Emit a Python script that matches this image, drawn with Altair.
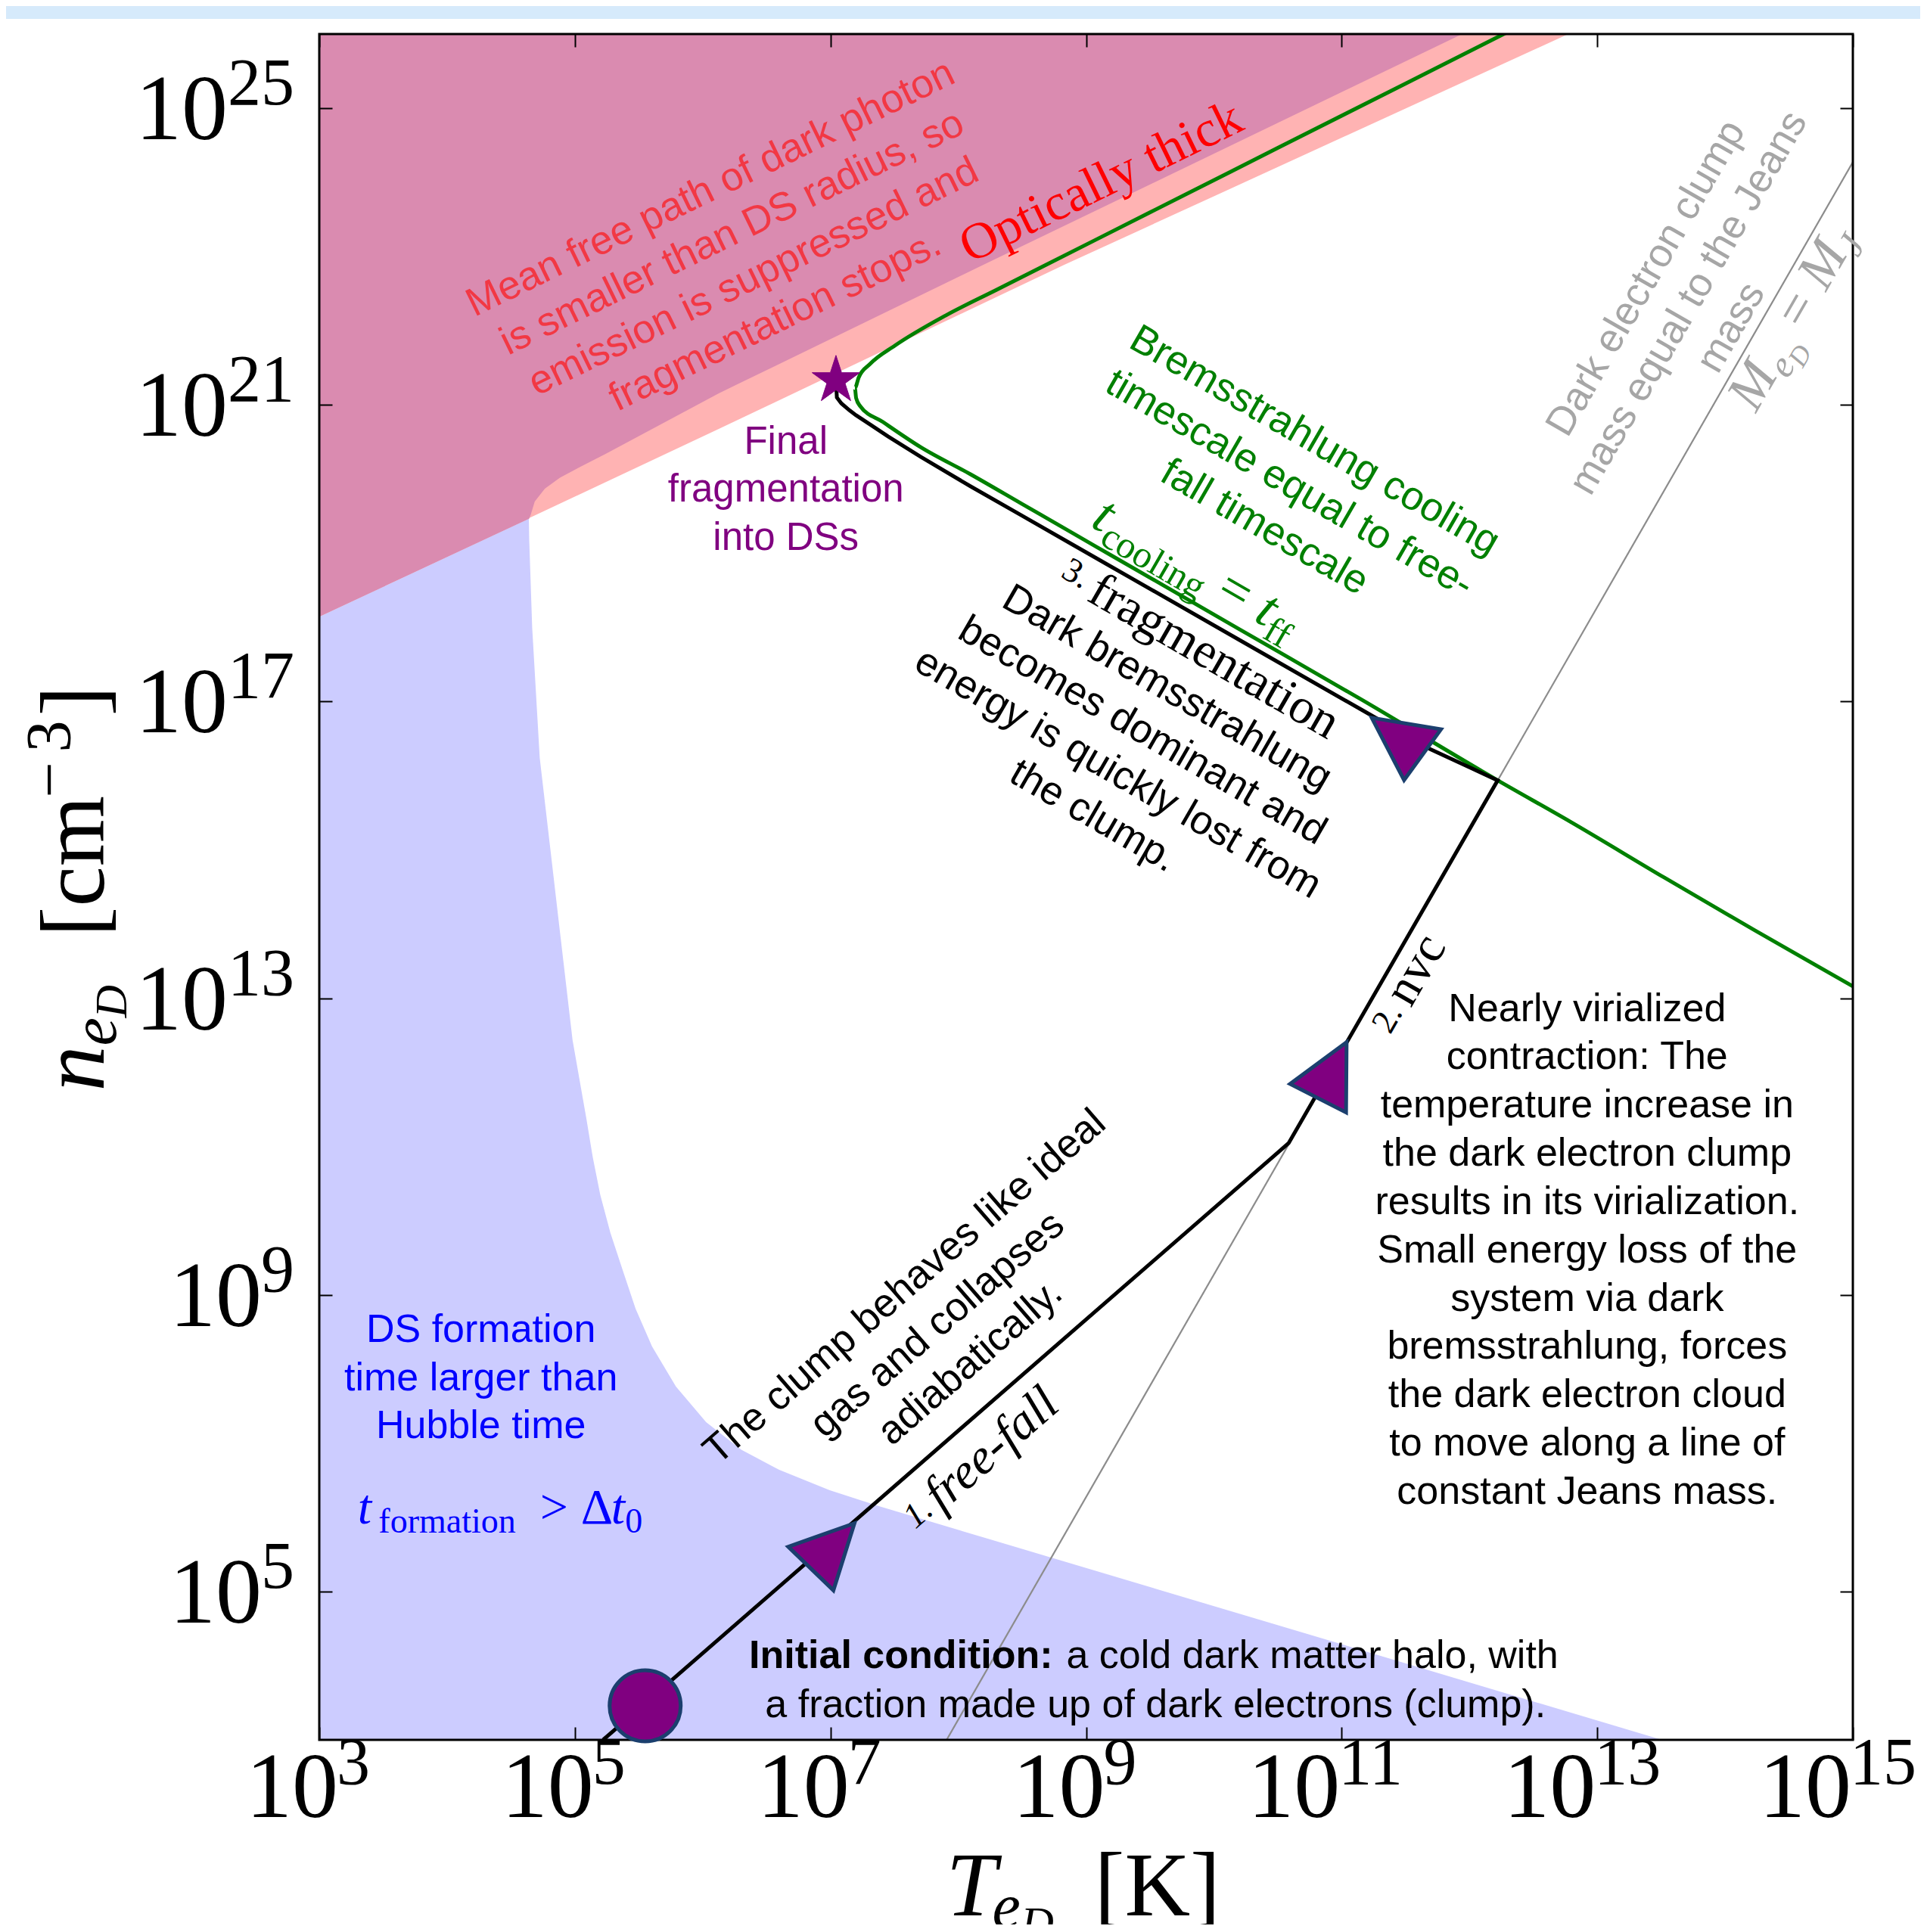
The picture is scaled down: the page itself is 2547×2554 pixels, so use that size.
import altair as alt
import pandas as pd

W, H = 2027, 2255
PAD = {"left": 414, "top": 37, "right": 89, "bottom": 244}
SANS = "Liberation Sans"
SERIF = "Liberation Serif"

# ---------------- data (log10 values) ----------------
XTICK_EXP = [3, 5, 7, 9, 11, 13, 15]
YTICK_EXP = [5, 9, 13, 17, 21, 25]

BLUE_LOGT = [3.0, 4.640, 4.643, 4.666, 4.725, 4.804, 4.883, 4.982, 5.091, 5.140, 5.199,
             5.278, 5.376, 5.475, 5.604, 5.791, 6.027, 6.303, 6.599, 6.994, 7.388, 13.507]
BLUE_LOGN = [18.144, 19.465, 19.168, 17.997, 16.241, 15.07, 13.899, 12.435, 11.365, 10.855, 10.345,
             9.835, 9.325, 8.815, 8.305, 7.762, 7.285, 6.911, 6.640, 6.367, 6.146, 3.0]

SALMON_LOGT = [3.0, 6.126, 8.83, 12.9]
SALMON_LOGN = [18.144, 20.676, 22.889, 26.1]

MAUVE_LOGT = [3.0, 4.642, 4.655, 4.686, 4.765, 4.883, 5.041, 5.238, 6.126, 8.197, 11.943, 12.1]
MAUVE_LOGN = [18.144, 19.465, 19.52, 19.696, 19.87, 20.017, 20.164, 20.337, 21.156, 22.889, 26.0, 26.13]

JEANS_LOGT = [7.909, 15.0]
JEANS_LOGN = [3.0, 24.274]

GREEN_LOGT = [12.40, 11.5, 10.5, 9.5, 8.688, 8.298, 7.901, 7.505, 7.309, 7.221, 7.191, 7.201, 7.233,
              7.410, 7.706, 8.096, 8.493, 8.889, 9.203, 10.2, 11.156, 12.221, 12.793, 13.523, 14.233, 15.0]
GREEN_LOGN = [26.115, 25.333, 24.464, 23.595, 22.889, 22.550, 22.205, 21.80, 21.55, 21.37, 21.227, 21.09, 20.982,
              20.770, 20.430, 20.064, 19.670, 19.277, 18.965, 17.975, 17.025, 15.937, 15.376, 14.628, 13.914, 13.16]

PATH_LOGT = [5.221, 10.585, 12.221, 11.689, 11.156, 10.2, 9.203, 8.890, 8.493, 8.097, 7.706, 7.45, 7.310,
             7.20, 7.150, 7.085, 7.050, 7.043]
PATH_LOGN = [3.0, 11.045, 15.937, 16.362, 16.889, 17.83, 18.812, 19.12, 19.511, 19.901, 20.300, 20.575, 20.735,
             20.86, 20.925, 21.02, 21.10, 21.33]

CIRCLE_LOGT, CIRCLE_LOGN = [5.55], [3.46]
TRI_LOGT = [7.017, 10.927, 11.434]
TRI_LOGN = [5.615, 12.029, 16.532]
TRI_ANGLE = [44, 27, 306]
STAR_LOGT, STAR_LOGN = [7.043], [21.33]

MEAN_FREE = ["Mean free path of dark photon", "is smaller than DS radius, so",
             "emission is suppressed and", "fragmentation stops."]
FINAL = ["Final", "fragmentation", "into DSs"]
BREMS = ["Bremsstrahlung cooling", "timescale equal to free-", "fall timescale"]
DARKB = ["Dark bremsstrahlung", "becomes dominant and", "energy is  quickly lost from", "the clump."]
JEANS_TXT = ["Dark electron clump", "mass equal to the Jeans", "mass"]
NVC_TXT = ["Nearly virialized", "contraction: The", "temperature increase in",
           "the dark electron clump", "results in its virialization.", "Small energy loss of the",
           "system via dark", "bremsstrahlung, forces", "the dark electron cloud",
           "to move along a line of", "constant Jeans mass."]
CLUMP = ["The clump behaves like ideal", "gas and collapses", "adiabatically."]
DSFORM = ["DS formation", "time larger than", "Hubble time"]
INIT_BOLD = "Initial condition:"
INIT_1 = "a cold dark matter halo, with"
INIT_2 = "a fraction made up of dark electrons (clump)."

# ---------------- helpers ----------------
XS = alt.Scale(type="log", domain=[1e3, 1e15], nice=False)
YS = alt.Scale(type="log", domain=[1e3, 1e26], nice=False)


def X(f="T"):
    return alt.X(f"{f}:Q", scale=XS, axis=None)


def Y(f="n"):
    return alt.Y(f"{f}:Q", scale=YS, axis=None)


def frame(lt, ln):
    return pd.DataFrame({"T": [10.0 ** v for v in lt], "n": [10.0 ** v for v in ln]})


def tick_axis(orient, exps):
    return alt.Axis(orient=orient, values=[10.0 ** e for e in exps], labels=False, title=None,
                    grid=False, domain=False, ticks=True, tickSize=17, offset=-17,
                    tickColor="black", tickWidth=2, zindex=1)


def text_block(lines, lt, ln, size, lh, color, angle=0, font=SANS, align="center",
               weight="normal", style="normal"):
    n = len(lines)
    dy = -(n - 1) / 2 * lh + 0.3 * size
    mk = dict(text=lines if n > 1 else lines[0], align=align, baseline="alphabetic",
              fontSize=size, font=font, color=color, dy=dy, lineHeight=lh,
              fontWeight=weight, fontStyle=style)
    if angle:
        mk["angle"] = angle
    return alt.Chart(frame([lt], [ln])).mark_text(**mk).encode(x=X(), y=Y())


def math_layers(segs, lt, ln, angle, color, base_dy):
    out = []
    for txt, dx, dy, size, style in segs:
        mk = dict(text=txt, align="left", baseline="alphabetic", dx=dx, dy=base_dy + dy,
                  fontSize=size, font=SERIF, fontStyle=style, color=color)
        if angle:
            mk["angle"] = angle
        out.append(alt.Chart(frame([lt], [ln])).mark_text(**mk).encode(x=X(), y=Y()))
    return out


layers = []

# top page band
layers.append(alt.Chart(pd.DataFrame({"a": [0]})).mark_rect(color="#D6EAFB").encode(
    x=alt.value(-414), x2=alt.value(W + 89), y=alt.value(-37), y2=alt.value(-20)))

# regions
dfb = frame(BLUE_LOGT, BLUE_LOGN)
dfb["n0"] = 1e3
layers.append(alt.Chart(dfb).mark_area(color="#CCCCFF", clip=True, orient="vertical").encode(
    x=alt.X("T:Q", scale=XS, axis=tick_axis("bottom", XTICK_EXP)),
    y=alt.Y("n:Q", scale=YS, axis=tick_axis("left", YTICK_EXP), stack=None),
    y2=alt.Y2("n0:Q")))

dfs = frame(SALMON_LOGT, SALMON_LOGN)
dfs["ntop"] = 1e26
layers.append(alt.Chart(dfs).mark_area(color="#FFB3B3", clip=True, orient="vertical").encode(
    x=alt.X("T:Q", scale=XS, axis=tick_axis("top", XTICK_EXP)),
    y=alt.Y("n:Q", scale=YS, axis=tick_axis("right", YTICK_EXP), stack=None),
    y2=alt.Y2("ntop:Q")))

dfm = frame(MAUVE_LOGT, MAUVE_LOGN)
dfm["ntop"] = 1e26
layers.append(alt.Chart(dfm).mark_area(color="#DA8BB0", clip=True, orient="vertical").encode(
    x=X(), y=alt.Y("n:Q", scale=YS, axis=None, stack=None), y2=alt.Y2("ntop:Q")))

# lines
dfj = frame(JEANS_LOGT, JEANS_LOGN)
dfj["i"] = range(len(dfj))
layers.append(alt.Chart(dfj).mark_line(color="#8C8C8C", strokeWidth=2.2, clip=True).encode(
    x=X(), y=Y(), order="i:Q"))

dfg = frame(GREEN_LOGT, GREEN_LOGN)
dfg["i"] = range(len(dfg))
layers.append(alt.Chart(dfg).mark_line(color="#008000", strokeWidth=5, clip=True,
                                       interpolate="monotone").encode(
    x=X(), y=Y(), order="i:Q"))

dfp = frame(PATH_LOGT, PATH_LOGN)
dfp["i"] = range(len(dfp))
layers.append(alt.Chart(dfp).mark_line(color="black", strokeWidth=5, clip=True).encode(
    x=X(), y=Y(), order="i:Q"))

# frame
dff = pd.DataFrame({"T": [1e3], "T2": [1e15], "n": [1e3], "n2": [1e26]})
layers.append(alt.Chart(dff).mark_rect(filled=False, color="black", strokeWidth=3, fillOpacity=0).encode(
    x=X(), x2=alt.X2("T2:Q"), y=Y(), y2=alt.Y2("n2:Q")))

# markers
EDGE = "#1B3F6E"
PURPLE = "#800080"
layers.append(alt.Chart(frame(CIRCLE_LOGT, CIRCLE_LOGN)).mark_point(
    shape="circle", filled=True, fill=PURPLE, stroke=EDGE, strokeWidth=5, size=8836, opacity=1
).encode(x=X(), y=Y()))
dft = frame(TRI_LOGT, TRI_LOGN)
dft["a"] = TRI_ANGLE
layers.append(alt.Chart(dft).mark_point(
    shape="M0,-1L1,1L-1,1Z", filled=True, fill=PURPLE, stroke=EDGE, strokeWidth=5, size=6889, opacity=1
).encode(x=X(), y=Y(), angle=alt.Angle("a:Q", scale=None)))
STAR_PATH = ("M0,-1L0.2245,-0.309L0.951,-0.309L0.363,0.118L0.588,0.809L0,0.382"
             "L-0.588,0.809L-0.363,0.118L-0.951,-0.309L-0.2245,-0.309Z")
layers.append(alt.Chart(frame(STAR_LOGT, STAR_LOGN)).mark_point(
    shape=STAR_PATH, filled=True, fill=PURPLE, stroke=PURPLE, strokeWidth=1, size=4385, opacity=1
).encode(x=X(), y=Y()))

# tick labels
for exps, bdx, edx in ([e for e in XTICK_EXP if e < 10], 25, 23), ([e for e in XTICK_EXP if e >= 10], -2, -4):
    d = pd.DataFrame({"T": [10.0 ** e for e in exps], "n": [1e3] * len(exps),
                      "base": ["10"] * len(exps), "ex": [str(e) for e in exps]})
    layers.append(alt.Chart(d).mark_text(align="right", baseline="alphabetic", dx=bdx, dy=101.7,
                                         fontSize=122, font=SERIF, color="black").encode(
        x=X(), y=Y(), text="base:N"))
    layers.append(alt.Chart(d).mark_text(align="left", baseline="alphabetic", dx=edx, dy=58,
                                         fontSize=88, font=SERIF, color="black").encode(
        x=X(), y=Y(), text="ex:N"))
for exps, bdx in ([e for e in YTICK_EXP if e < 10], -76), ([e for e in YTICK_EXP if e >= 10], -121):
    d = pd.DataFrame({"T": [1e3] * len(exps), "n": [10.0 ** e for e in exps],
                      "base": ["10"] * len(exps), "ex": [str(e) for e in exps]})
    layers.append(alt.Chart(d).mark_text(align="right", baseline="alphabetic", dx=bdx, dy=41,
                                         fontSize=122, font=SERIF, color="black").encode(
        x=X(), y=Y(), text="base:N"))
    layers.append(alt.Chart(d).mark_text(align="right", baseline="alphabetic", dx=-33, dy=-5,
                                         fontSize=88, font=SERIF, color="black").encode(
        x=X(), y=Y(), text="ex:N"))

# axis titles (composed)
IT, RM = "italic", "normal"
layers += math_layers([("n", -270, 0, 120, IT), ("e", -210, 16, 84, IT), ("D", -173, 30, 60, IT),
                       ("[cm", -66, 0, 120, RM), ("\u2212", 118, -44, 84, RM), ("3", 178, -44, 84, RM),
                       ("]", 226, 0, 120, RM)], 3.0, 14.5, 270, "black", -285)
layers += math_layers([("T", -185, 0, 120, IT), ("e", -124, 16, 84, IT), ("D", -86, 30, 60, IT),
                       ("[K]", 11, 0, 120, RM)], 9.0, 3.0, 0, "black", 231.7)

# annotations
layers.append(text_block(MEAN_FREE, 6.315, 23.022, 53, 65, "#F23844", angle=334))
layers.append(text_block(["Optically thick"], 9.118, 24.0, 68, 68, "#FF0000", angle=334, font=SERIF))
layers.append(text_block(FINAL, 6.651, 19.849, 51, 63.5, PURPLE))
layers.append(text_block(BREMS, 10.592, 19.932, 53, 66, "#008000", angle=30))
layers.append(text_block(DARKB, 9.345, 16.316, 53, 65, "black", angle=30))
layers.append(text_block(JEANS_TXT, 13.716, 22.373, 53, 65, "#A6A6A6", angle=300))
layers.append(text_block(NVC_TXT, 12.921, 9.597, 52, 63.84, "black"))
layers.append(text_block(CLUMP, 7.838, 8.596, 53, 66, "black", angle=319))
layers.append(text_block(DSFORM, 4.265, 7.875, 52, 63.8, "#0000FF"))
layers.append(text_block([INIT_BOLD], 8.740, 4.131, 52, 52, "black", align="right", weight="bold"))
layers.append(text_block([INIT_1], 8.846, 4.131, 52, 52, "black", align="left"))
layers.append(text_block([INIT_2], 9.543, 3.468, 52, 52, "black"))

layers += math_layers([("t", -152, 0, 72, IT), ("cooling", -130, 14, 50, RM), ("=", 38, 0, 72, RM),
                       ("t", 97, 0, 72, IT), ("ff", 118, 14, 50, RM)], 9.870, 18.789, 30, "#008000", 22)
layers += math_layers([("3.", -210, -10, 46, RM), ("fragmentation", -165, 0, 66, RM)],
                      9.899, 17.708, 30, "black", 20)
layers += math_layers([("2.", -71, -6, 46, RM), ("nvc", -27, 0, 66, RM)],
                      11.518, 13.2, 300, "black", 20)
layers += math_layers([("1.", -129, -6, 46, IT), ("free-fall", -88, 0, 66, IT)],
                      8.185, 6.806, 319, "black", 20)
layers += math_layers([("M", -133.5, 0, 72, IT), ("e", -73.5, 14, 50, IT), ("D", -51.5, 24, 36, IT),
                       ("=", -7.5, 0, 72, RM), ("M", 51.5, 0, 72, IT), ("J", 111.5, 14, 50, IT)],
                      14.525, 22.175, 300, "#A6A6A6", 22)
layers += math_layers([("t", -187.5, 0, 66, IT), ("formation", -160, 12, 46, RM), (">", 53.5, 0, 66, RM),
                       ("\u0394", 107.5, 0, 66, RM), ("t", 147.5, 0, 66, IT), ("0", 166, 12, 46, RM)],
                      4.411, 5.920, 0, "#0000FF", 0)

chart = alt.layer(*layers).properties(
    width=W, height=H, autosize=alt.AutoSizeParams(type="none"), padding=PAD
).resolve_axis(x="independent", y="independent").configure_view(strokeWidth=0)

chart.save("out.html", embed_options={"renderer": "svg", "actions": False})
